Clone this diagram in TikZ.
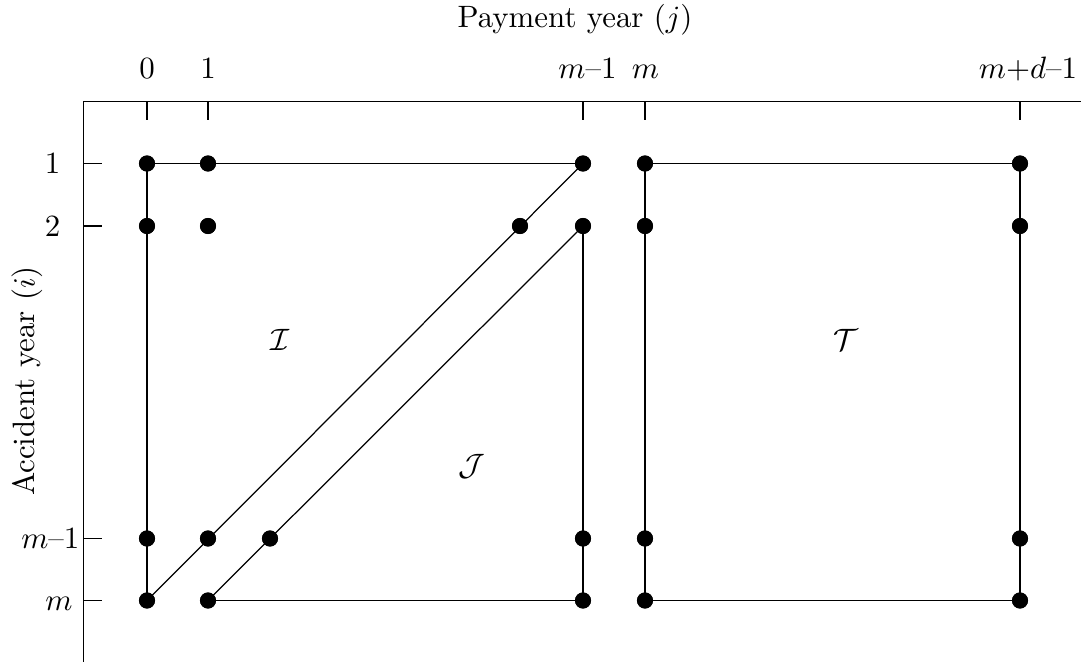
\documentclass[tikz,border=0pt]{standalone}
\begin{document}
\begin{tikzpicture}[x=0.3236pt,y=-0.3236pt,
  dot/.style={circle,fill=black,inner sep=0pt,minimum size=5.2pt},
  axis/.style={line width=0.45pt},
  edge/.style={line width=0.4pt},
  lab/.style={inner sep=0pt},
  tick/.style={line width=0.42pt}]
\useasboundingbox (0,0) rectangle (1081,662);
% axes
\coordinate (ax0) at (83.5,101.5);
\coordinate (axR) at (1081,101.5);
\coordinate (axB) at (83.5,662);
\draw[axis] (axR) -- (ax0) -- (axB);
% top ticks
\foreach \x/\n in {147/t0,208/t1,583/tm1,645/tm,1020/tmd}{
  \coordinate (\n a) at (\x,101.5);
  \coordinate (\n b) at (\x,120);
  \draw[tick] (\n a) -- (\n b);
}
% left ticks
\foreach \y/\n in {163.5/l1,226/l2,538.5/lm1,600.5/lm}{
  \coordinate (\n a) at (83.5,\y);
  \coordinate (\n b) at (102,\y);
  \draw[tick] (\n a) -- (\n b);
}
% labels
\node[lab] (title) at (575,20) {Payment year $(j)$};
\node[lab,rotate=90] (ylab) at (27,381) {Accident year $(i)$};
\node[lab,anchor=base] (x0) at (147,78) {0};
\node[lab,anchor=base] (x1) at (208,78) {1};
\node[lab,anchor=base] (xm1) at (587.5,78) {$m$--1};
\node[lab,anchor=base] (xm) at (645.5,78) {$m$};
\node[lab,anchor=base] (xmd) at (1028,78) {$m$+$d$--1};
\node[lab,anchor=base east] (y1) at (61,173.5) {1};
\node[lab,anchor=base east] (y2) at (61,236) {2};
\node[lab,anchor=base east] (ym1) at (80,548.5) {$m$--1};
\node[lab,anchor=base east] (ym) at (73,610.5) {$m$};
\node[lab] (I) at (280,340) {$\mathcal{I}$};
\node[lab] (J) at (472,466) {$\mathcal{J}$};
\node[lab] (T) at (846,340) {$\mathcal{T}$};
% dots
\node[dot] (a1) at (147,163.5) {};
\node[dot] (b1) at (208,163.5) {};
\node[dot] (c1) at (583,163.5) {};
\node[dot] (d1) at (645,163.5) {};
\node[dot] (e1) at (1020,163.5) {};
\node[dot] (a2) at (147,226) {};
\node[dot] (b2) at (208,226) {};
\node[dot] (x2) at (520,226) {};
\node[dot] (c2) at (583,226) {};
\node[dot] (d2) at (645,226) {};
\node[dot] (e2) at (1020,226) {};
\node[dot] (a3) at (147,538.5) {};
\node[dot] (b3) at (208,538.5) {};
\node[dot] (x3) at (270,538.5) {};
\node[dot] (c3) at (583,538.5) {};
\node[dot] (d3) at (645,538.5) {};
\node[dot] (e3) at (1020,538.5) {};
\node[dot] (a4) at (147,600.5) {};
\node[dot] (b4) at (208,600.5) {};
\node[dot] (c4) at (583,600.5) {};
\node[dot] (d4) at (645,600.5) {};
\node[dot] (e4) at (1020,600.5) {};
% left region
\draw[edge] (a1.center) -- (c1.center);
\draw[edge] (a1.center) -- (a4.center);
\draw[edge] (a4.center) -- (c1.center);
\draw[edge] (b4.center) -- (c2.center);
\draw[edge] (c2.center) -- (c4.center);
\draw[edge] (b4.center) -- (c4.center);
% right region
\draw[edge] (d1.center) -- (e1.center) -- (e4.center) -- (d4.center) -- cycle;
% redraw dots on top
\foreach \n in {a1,b1,c1,d1,e1,a2,b2,x2,c2,d2,e2,a3,b3,x3,c3,d3,e3,a4,b4,c4,d4,e4}{
  \fill (\n) circle (2.6pt);
}
\end{tikzpicture}
\end{document}
